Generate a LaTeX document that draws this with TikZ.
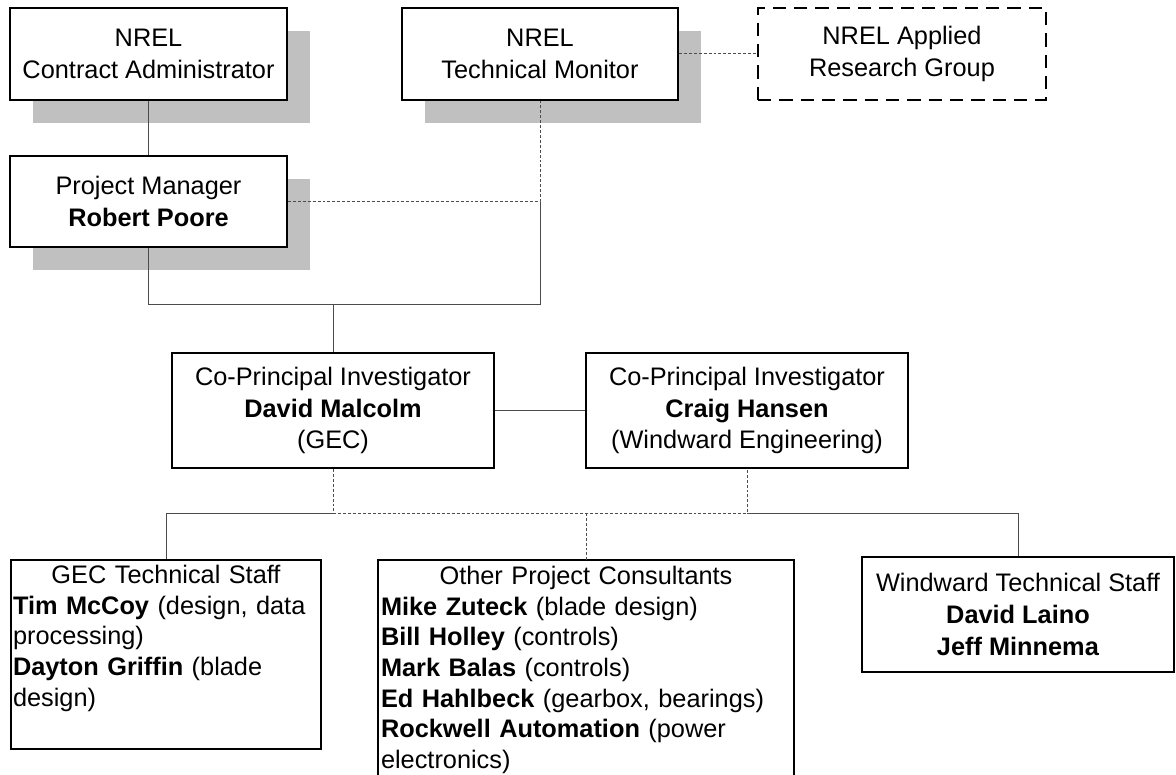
\documentclass[tikz,border=0pt]{standalone}
\usepackage{fontspec}
\setmainfont{Liberation Sans}
\usetikzlibrary{shadows}
\definecolor{shadowgray}{RGB}{192,192,192}
\newcommand{\hd}[1]{\makebox[\linewidth]{#1}}
\tikzset{
  box/.style={draw, line width=1.5pt, fill=white, align=center, inner sep=1.5pt,
    font=\fontsize{19pt}{23.8pt}\selectfont},
  shbox/.style={box, drop shadow={shadow xshift=17.25pt, shadow yshift=-17.25pt,
    fill=shadowgray, opacity=1}},
  dashbox/.style={box, dash pattern=on 10pt off 6pt},
  listbox/.style={box, anchor=north, align=left, inner ysep=0pt, text height=17.5pt,
    font=\fontsize{19pt}{23pt}\selectfont},
  link/.style={line width=0.75pt, black!70},
  dlink/.style={link, dash pattern=on 2.2pt off 1.5pt}
}

\begin{document}
\begin{tikzpicture}[x=0.75pt, y=-0.75pt]
	\useasboundingbox (0,0) rectangle (1176,774);
	\node[shbox, minimum width=207.75pt, minimum height=69pt] (ca) at (148.5,54) {NREL\\Contract Administrator};
	\node[shbox, minimum width=207pt, minimum height=69pt] (tm) at (540,54) {NREL\\Technical Monitor};
	\node[dashbox, minimum width=216pt, minimum height=69pt] (arg) at (902,54) {NREL Applied\\Research Group};
	\node[shbox, minimum width=207.75pt, minimum height=68.25pt] (pm) at (148.5,201.5) {Project Manager\\\textbf{Robert Poore}};
	\node[box, minimum width=241.5pt, minimum height=86.25pt] (dm) at (333,410.5) {Co-Principal Investigator\\\textbf{David Malcolm}\\(GEC)};
	\node[box, minimum width=241.5pt, minimum height=86.25pt] (ch) at (747,410.5) {Co-Principal Investigator\\\textbf{Craig Hansen}\\(Windward Engineering)};
	\node[listbox, text width=229.5pt, text depth=124.25pt] (gec) at (166,559) {\hd{GEC Technical Staff}\\\textbf{Tim McCoy} (design, data\\processing)\\\textbf{Dayton Griffin} (blade\\design)};
	\node[listbox, draw=none, fill=none, text width=307.5pt, text depth=143pt] (oth) at (586,560) {\hd{Other Project Consultants}\\\textbf{Mike Zuteck} (blade design)\\\textbf{Bill Holley} (controls)\\\textbf{Mark Balas} (controls)\\\textbf{Ed Hahlbeck} (gearbox, bearings)\\\textbf{Rockwell Automation} (power\\electronics)};
	\node[box, minimum width=234pt, minimum height=86.25pt] (ww) at (1018,614.5) {Windward Technical Staff\\\textbf{David Laino}\\\textbf{Jeff Minnema}};
	\draw[line width=1.5pt] (oth.south west) -- (oth.north west) -- (oth.north east) -- (oth.south east);
	\coordinate (bus1) at (333,304);
	\coordinate (bus2) at (333,513);
	\draw[link] (ca.south) -- (pm.north);
	\draw[dlink] (tm.east) -- (arg.west);
	\draw[dlink] (pm.east) -| (tm.south);
	\draw[link] (pm.south) |- (bus1 -| tm.south) -- (tm.south |- pm.east);
	\draw[link] (bus1) -- (dm.north);
	\draw[link] (dm.east) -- (ch.west);
	\draw[dlink] (dm.south) -- (bus2) -- (bus2 -| ch.south) -- (ch.south);
	\draw[link] (bus2) -| (gec.north);
	\draw[link] (bus2 -| ch.south) -| (ww.north);
	\draw[dlink] (bus2 -| oth.north) -- (oth.north);
\end{tikzpicture}
\end{document}
